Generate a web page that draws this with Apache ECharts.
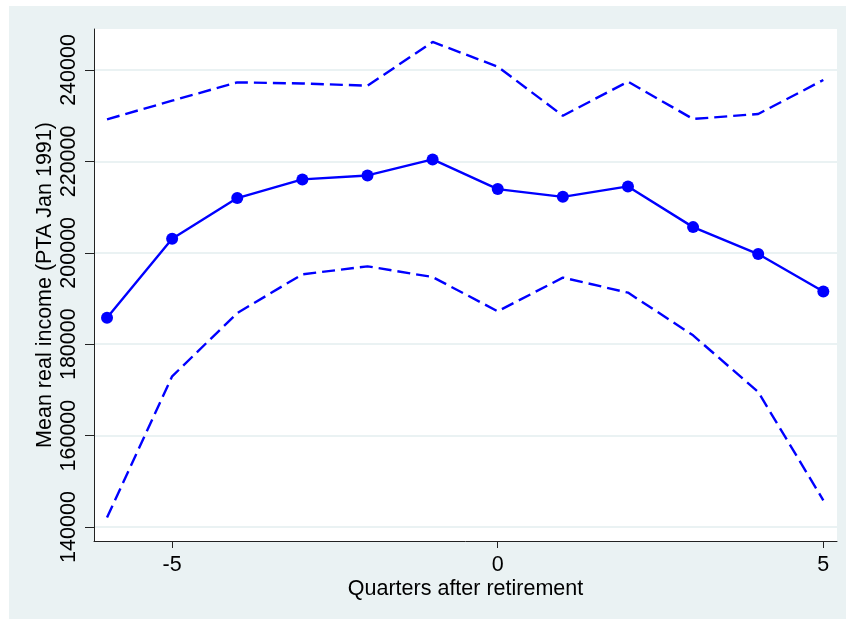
<!DOCTYPE html>
<html>
<head>
<meta charset="utf-8">
<script src="https://cdn.jsdelivr.net/npm/echarts@6/dist/echarts.min.js"></script>
<style>
  html, body { margin: 0; padding: 0; background: #fff; }
  #chart {
    width: 846px;
    height: 619px;
    background: linear-gradient(#eaf2f3, #eaf2f3) 9px 6px / 837px 613px no-repeat, #fff;
  }
</style>
</head>
<body>
<div id="chart"></div>
<script>
// quarters relative to retirement
const quarters = [-6, -5, -4, -3, -2, -1, 0, 1, 2, 3, 4, 5];
// mean real income and its confidence band
const meanIncome = [185780, 203060, 211970, 216060, 216930, 220440, 213940, 212250, 214530, 205620, 199720, 191550];
const upperBand = [229210, 233280, 237300, 237050, 236570, 246130, 240730, 230000, 237450, 229280, 230370, 237810];
const lowerBand = [142060, 172970, 186820, 195290, 197040, 194700, 187200, 194570, 191290, 181940, 169540, 145840];
// tick labels
const yTicks = [140000, 160000, 180000, 200000, 220000, 240000];
const xTicks = [-5, 0, 5];

const font = "'Liberation Sans', Arial, sans-serif";
const blue = "#0000ff";

function pairs(vals) {
  return quarters.map((q, i) => [q, vals[i]]);
}

const chart = echarts.init(document.getElementById("chart"));
chart.setOption({
  animation: false,
  grid: {
    left: 94,
    top: 29,
    right: 9,
    bottom: 78,
    show: true,
    backgroundColor: "#fff",
    borderWidth: 0,
  },
  xAxis: {
    type: "value",
    min: -6.2,
    max: 5.21,
    name: "Quarters after retirement",
    nameLocation: "middle",
    nameGap: 37,
    nameMoveOverlap: false,
    nameTextStyle: { color: "#000", fontSize: 21.5, fontFamily: font },
    axisLine: { show: true, onZero: false, lineStyle: { color: "#222", width: 1 } },
    axisTick: { show: true, length: 7, customValues: xTicks, lineStyle: { color: "#222" } },
    axisLabel: { customValues: xTicks, color: "#000", fontSize: 21.5, fontFamily: font, margin: 13,
      formatter: (v) => String(v) },
    splitLine: { show: false },
  },
  yAxis: {
    type: "value",
    min: 136940,
    max: 248970,
    name: "Mean real income (PTA Jan 1991)",
    nameLocation: "middle",
    nameGap: 38,
    nameMoveOverlap: false,
    nameTextStyle: { color: "#000", fontSize: 21.5, fontFamily: font },
    axisLine: { show: true, onZero: false, lineStyle: { color: "#222", width: 1 } },
    axisTick: { show: true, length: 9, customValues: yTicks, lineStyle: { color: "#222" } },
    axisLabel: { customValues: yTicks, rotate: 90, color: "#000", fontSize: 21.5, fontFamily: font, margin: 14,
      formatter: (v) => String(v) },
    splitLine: { show: true, lineStyle: { color: "#eaf2f3", width: 2 } },
  },
  series: [
    {
      type: "line",
      data: pairs(upperBand),
      symbol: "none",
      lineStyle: { color: blue, width: 2.4, type: [13, 6] },
    },
    {
      type: "line",
      data: pairs(lowerBand),
      symbol: "none",
      lineStyle: { color: blue, width: 2.4, type: [13, 6] },
    },
    {
      type: "line",
      data: pairs(meanIncome),
      symbol: "circle",
      symbolSize: 12,
      itemStyle: { color: blue },
      lineStyle: { color: blue, width: 2.4 },
    },
  ],
});
</script>
</body>
</html>
